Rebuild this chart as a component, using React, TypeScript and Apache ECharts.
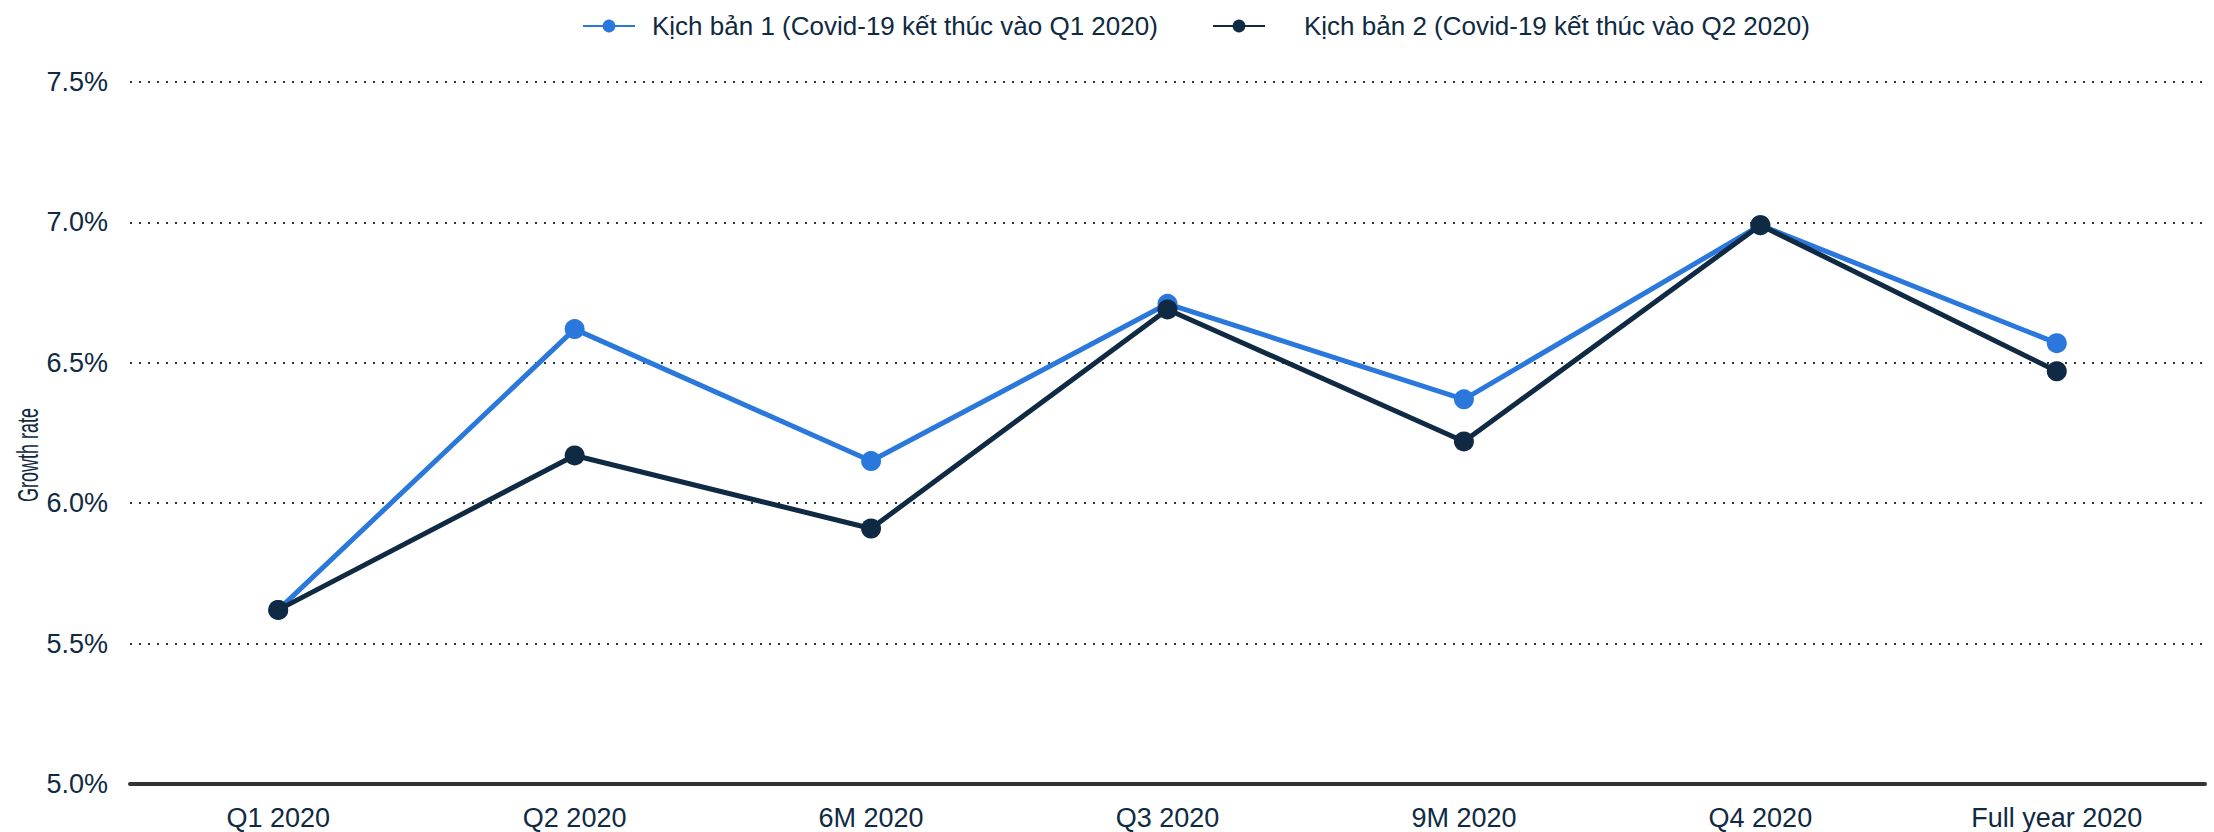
import React, { useEffect, useRef } from "react";
import * as echarts from "echarts";

const categories = ["Q1 2020", "Q2 2020", "6M 2020", "Q3 2020", "9M 2020", "Q4 2020", "Full year 2020"];
const scenario1 = [5.62, 6.62, 6.15, 6.71, 6.37, 6.99, 6.57];
const scenario2 = [5.62, 6.17, 5.91, 6.69, 6.22, 6.99, 6.47];
const seriesNames = [
  "Kịch bản 1 (Covid-19 kết thúc vào Q1 2020)",
  "Kịch bản 2 (Covid-19 kết thúc vào Q2 2020)",
];
const yAxisTitle = "Growth rate";
const yTicks = { min: 5, max: 7.5, interval: 0.5 };

const BLUE = "#2b78dc";
const NAVY = "#0f2a42";
const FONT = "Liberation Sans, Arial, sans-serif";

export default function App() {
  const ref = useRef<HTMLDivElement>(null);
  useEffect(() => {
    if (!ref.current) return;
    const chart = echarts.init(ref.current, null, { renderer: "svg" });
    const legendCommon = {
      top: 8,
      itemWidth: 52,
      itemHeight: 16,
    };
    chart.setOption({
      animation: false,
      textStyle: { fontFamily: FONT },
      legend: [
        {
          ...legendCommon,
          data: [seriesNames[0]],
          left: 577,
          textStyle: { fontSize: 26, color: NAVY, fontFamily: FONT, padding: [0, 0, 0, 12] },
        },
        {
          ...legendCommon,
          data: [seriesNames[1]],
          left: 1207,
          textStyle: { fontSize: 26, color: NAVY, fontFamily: FONT, padding: [0, 0, 0, 34] },
        },
      ],
      graphic: [
        {
          type: "text",
          x: 28,
          y: 455,
          rotation: Math.PI / 2,
          scaleX: 0.62,
          scaleY: 1,
          style: {
            text: yAxisTitle,
            fill: NAVY,
            fontSize: 29,
            fontFamily: FONT,
            align: "center",
            verticalAlign: "middle",
          },
        },
      ],
      grid: { left: 130, right: 9, top: 82, bottom: 48, containLabel: false },
      xAxis: {
        type: "category",
        data: categories,
        boundaryGap: true,
        axisLine: { show: true, lineStyle: { color: "#333333", width: 4 } },
        axisTick: { show: false },
        axisLabel: { color: NAVY, fontSize: 27, margin: 20, fontFamily: FONT },
        splitLine: { show: false },
      },
      yAxis: {
        type: "value",
        min: yTicks.min,
        max: yTicks.max,
        interval: yTicks.interval,
        axisLine: { show: false },
        axisTick: { show: false },
        axisLabel: {
          color: NAVY,
          fontSize: 27,
          margin: 22,
          fontFamily: FONT,
          formatter: (v: number) => v.toFixed(1) + "%",
        },
        splitLine: {
          show: true,
          lineStyle: { color: "#333333", width: 2, type: [2, 7] },
        },
      },
      series: [
        {
          name: seriesNames[0],
          type: "line",
          data: scenario1,
          symbol: "circle",
          symbolSize: 20,
          lineStyle: { color: BLUE, width: 5 },
          itemStyle: { color: BLUE },
          z: 2,
        },
        {
          name: seriesNames[1],
          type: "line",
          data: scenario2,
          symbol: "circle",
          symbolSize: 20,
          lineStyle: { color: NAVY, width: 5 },
          itemStyle: { color: NAVY },
          z: 3,
        },
      ],
    });
    return () => chart.dispose();
  }, []);
  return (
    <div
      ref={ref}
      style={{ position: "fixed", left: 0, top: 0, width: 2214, height: 832, background: "#fff" }}
    />
  );
}
